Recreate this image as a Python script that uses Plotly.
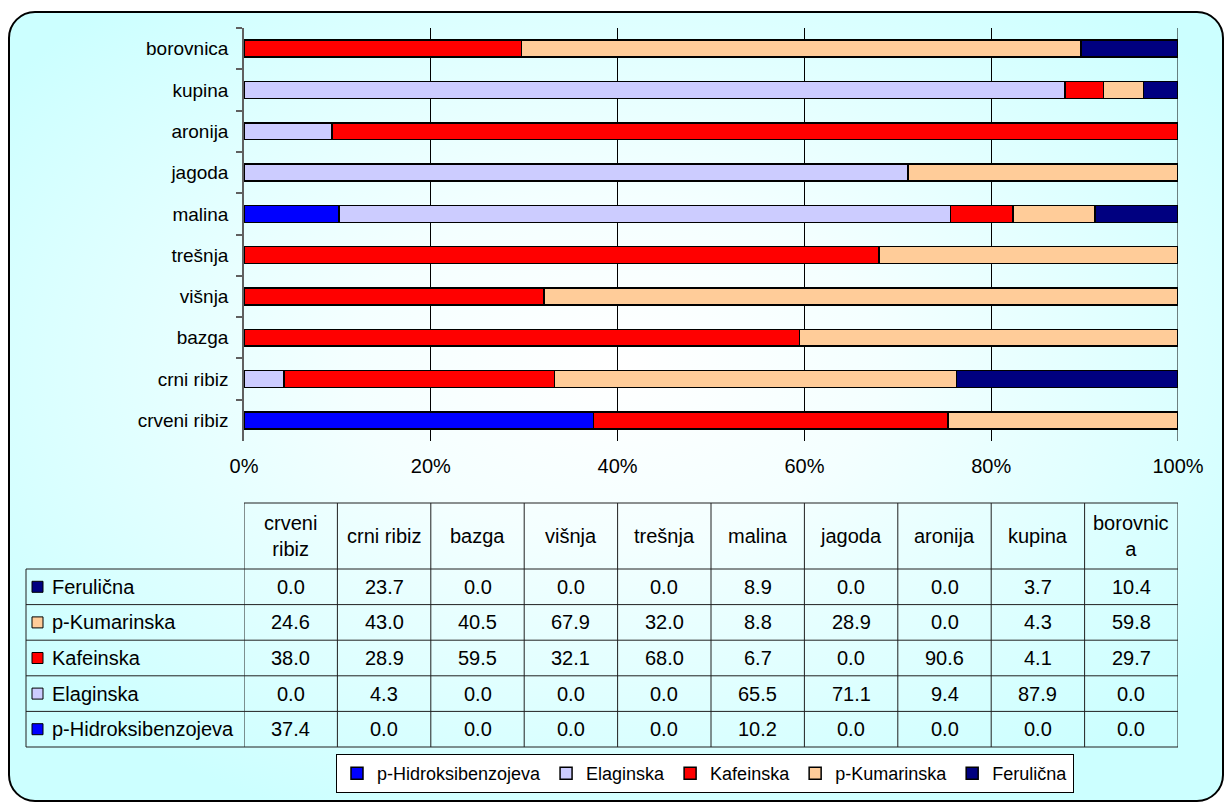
import base64
import plotly.graph_objects as go

# ---- data -------------------------------------------------------------
categories = ["crveni ribiz", "crni ribiz", "bazga", "višnja", "trešnja",
              "malina", "jagoda", "aronija", "kupina", "borovnica"]
header_labels = ["crveni<br>ribiz", "crni ribiz", "bazga", "višnja", "trešnja",
                 "malina", "jagoda", "aronija", "kupina", "borovnic<br>a"]

series_names = ["p-Hidroksibenzojeva", "Elaginska", "Kafeinska",
                "p-Kumarinska", "Ferulična"]
p_hidroksibenzojeva = [37.4, 0.0, 0.0, 0.0, 0.0, 10.2, 0.0, 0.0, 0.0, 0.0]
elaginska = [0.0, 4.3, 0.0, 0.0, 0.0, 65.5, 71.1, 9.4, 87.9, 0.0]
kafeinska = [38.0, 28.9, 59.5, 32.1, 68.0, 6.7, 0.0, 90.6, 4.1, 29.7]
p_kumarinska = [24.6, 43.0, 40.5, 67.9, 32.0, 8.8, 28.9, 0.0, 4.3, 59.8]
ferulicna = [0.0, 23.7, 0.0, 0.0, 0.0, 8.9, 0.0, 0.0, 3.7, 10.4]
series_values = [p_hidroksibenzojeva, elaginska, kafeinska, p_kumarinska, ferulicna]
series_colors = ["#0000FF", "#CCCCFF", "#FF0000", "#FFCC99", "#000080"]

x_ticks = [0, 20, 40, 60, 80, 100]

# ---- geometry (pixels) -------------------------------------------------
W, H = 1226, 805
FONT = "Liberation Sans, Arial, sans-serif"
FS_AXIS = 19
FS_TABLE = 20
plot_left, plot_right = 244, 1178
plot_top, plot_bottom = 28, 441
tbl_left = 26
hdr_top, hdr_bottom, tbl_bottom = 503, 569, 747


def px_x(p):
    return p / W


def px_y(p):
    return 1 - p / H


fig = go.Figure()

for name, vals, col in zip(series_names, series_values, series_colors):
    fig.add_trace(go.Bar(
        y=categories, x=vals, name=name, orientation="h",
        marker=dict(color=col, line=dict(color="#000000", width=1.5)),
        hoverinfo="skip",
    ))

# ---- data table beneath the bars, columns share the x scale ---------
n_cols = len(categories)
col_w = 100 / n_cols
row_h = (tbl_bottom - hdr_bottom) / len(series_names)
line_col = "#202020"
shapes = []
annotations = []

# vertical column borders
for k in range(n_cols + 1):
    shapes.append(dict(type="line", xref="x", yref="paper",
                       x0=k * col_w, x1=k * col_w,
                       y0=px_y(hdr_top), y1=px_y(tbl_bottom),
                       line=dict(color=line_col, width=1)))
shapes.append(dict(type="line", xref="paper", yref="paper",
                   x0=px_x(tbl_left), x1=px_x(tbl_left),
                   y0=px_y(hdr_bottom), y1=px_y(tbl_bottom),
                   line=dict(color=line_col, width=1)))
# header top border
shapes.append(dict(type="line", xref="x", yref="paper", x0=0, x1=100,
                   y0=px_y(hdr_top), y1=px_y(hdr_top),
                   line=dict(color=line_col, width=1)))
# row borders
for r in range(len(series_names) + 1):
    yy = px_y(hdr_bottom + r * row_h)
    shapes.append(dict(type="line", xref="paper", yref="paper",
                       x0=px_x(tbl_left), x1=px_x(plot_right),
                       y0=yy, y1=yy, line=dict(color=line_col, width=1)))

# header text
for i, lab in enumerate(header_labels):
    annotations.append(dict(xref="x", yref="paper", x=i * col_w + col_w / 2,
                            y=px_y((hdr_top + hdr_bottom) / 2), text=lab,
                            showarrow=False, xanchor="center", yanchor="middle",
                            font=dict(family=FONT, size=FS_TABLE, color="#000")))

# rows: last series first
for r, s in enumerate(reversed(range(len(series_names)))):
    yc = hdr_bottom + r * row_h + row_h / 2
    shapes.append(dict(type="rect", xref="paper", yref="paper",
                       x0=px_x(32), x1=px_x(43),
                       y0=px_y(yc + 5.5), y1=px_y(yc - 5.5),
                       fillcolor=series_colors[s],
                       line=dict(color="#000", width=1)))
    annotations.append(dict(xref="paper", yref="paper", x=px_x(50), y=px_y(yc),
                            text=series_names[s], showarrow=False,
                            xanchor="left", yanchor="middle",
                            font=dict(family=FONT, size=FS_TABLE, color="#000")))
    for i, v in enumerate(series_values[s]):
        annotations.append(dict(xref="x", yref="paper",
                                x=i * col_w + col_w / 2, y=px_y(yc),
                                text=f"{v:.1f}", showarrow=False,
                                xanchor="center", yanchor="middle",
                                font=dict(family=FONT, size=FS_TABLE, color="#000")))

# right border of the bar area
shapes.append(dict(type="line", xref="x", yref="y domain", x0=100, x1=100,
                   y0=0, y1=1, line=dict(color="#000", width=1)))

# rounded chart frame with a soft centre-to-edge gradient
svg = (
    f"<svg xmlns='http://www.w3.org/2000/svg' width='{W}' height='{H}' "
    f"viewBox='0 0 {W} {H}' preserveAspectRatio='none'>"
    "<defs><radialGradient id='g' cx='0.5' cy='0.45' r='0.62'>"
    "<stop offset='0' stop-color='#FFFFFF'/>"
    "<stop offset='0.35' stop-color='#F4FFFF'/>"
    "<stop offset='1' stop-color='#CCFFFF'/>"
    "</radialGradient></defs>"
    "<rect x='9' y='12' width='1214' height='789' rx='26' ry='26' "
    "fill='url(#g)' stroke='#000' stroke-width='2'/></svg>"
)
bg_uri = "data:image/svg+xml;base64," + base64.b64encode(svg.encode()).decode()

fig.update_layout(
    template="none",
    width=W, height=H, autosize=False,
    margin=dict(l=0, r=0, t=0, b=0, pad=0),
    paper_bgcolor="#FFFFFF",
    plot_bgcolor="rgba(0,0,0,0)",
    barmode="stack",
    barnorm="percent",
    bargap=0.59,
    font=dict(family=FONT, size=FS_AXIS, color="#000"),
    xaxis=dict(domain=[px_x(plot_left), px_x(plot_right)], range=[0, 100],
               tickvals=x_ticks, ticktext=[f"{t}%" for t in x_ticks],
               tickfont=dict(family=FONT, size=20, color="#000"),
               showgrid=True, gridcolor="#000", gridwidth=1,
               zeroline=False, showline=False, ticks="",
               ticklabelstandoff=11, automargin=False, fixedrange=True),
    yaxis=dict(domain=[px_y(plot_bottom), px_y(plot_top)],
               type="category", categoryorder="array", categoryarray=categories,
               tickson="boundaries", ticks="outside", ticklen=6,
               tickcolor="#606060", tickwidth=1.5,
               showline=True, linecolor="#606060", linewidth=1.5,
               showgrid=False, zeroline=False, ticklabelstandoff=10,
               automargin=False, fixedrange=True),
    legend=dict(orientation="h", traceorder="normal",
                x=px_x(705), xanchor="center",
                y=px_y(754), yanchor="top", bgcolor="#FFFFFF",
                bordercolor="#000", borderwidth=1, itemwidth=30,
                font=dict(family=FONT, size=18)),
    shapes=shapes,
    annotations=annotations,
    images=[dict(source=bg_uri, xref="paper", yref="paper", x=0, y=1,
                 sizex=1, sizey=1, xanchor="left", yanchor="top",
                 sizing="stretch", layer="below")],
)

fig.write_html("out.html")
